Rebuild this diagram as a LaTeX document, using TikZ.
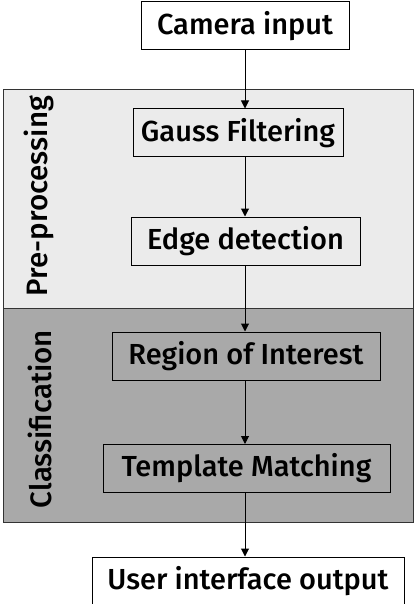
\documentclass[tikz,border=0pt]{standalone}
\usepackage{fontspec}
\setmainfont{Fira Sans}[BoldFont={Fira Sans Medium}]
\usetikzlibrary{arrows.meta}
\definecolor{lightpanel}{HTML}{EBEBEB}
\definecolor{darkpanel}{HTML}{A9A9A9}
\begin{document}
\begin{tikzpicture}[x=1pt,y=1pt,
  box/.style={draw=black, line width=1pt, minimum height=48pt, inner sep=0pt, font=\fontsize{29}{33}\selectfont\bfseries},
  panel/.style={draw=black!80, line width=1pt, inner sep=0pt},
  plabel/.style={rotate=90, font=\fontsize{29.5}{33}\selectfont\bfseries, inner sep=0pt},
  arr/.style={draw=black, line width=1pt, -{Triangle[length=8pt,width=8pt]}}]
\useasboundingbox (0,0) rectangle (416,-604);
\fill[white] (0,0) rectangle (416,-604);
\node[panel, fill=lightpanel, minimum width=410pt, minimum height=218pt] (pre) at (208,-199) {};
\node[panel, fill=darkpanel, minimum width=410pt, minimum height=214pt] (cls) at (208,-415) {};
\node[plabel] (prelab) at (39,-196) {Pre-processing};
\node[plabel] (clslab) at (40,-419) {Classification};
\node[box, fill=white, minimum width=208pt] (cam) at (245,-26) {Camera input};
\node[box, fill=lightpanel, minimum width=210pt] (gauss) at (238,-133) {Gauss Filtering};
\node[box, fill=lightpanel, minimum width=229pt] (edge) at (245.5,-241) {Edge detection};
\node[box, fill=darkpanel, minimum width=268pt] (roi) at (246,-356) {Region of Interest};
\node[box, fill=darkpanel, minimum width=287pt] (tm) at (246.5,-468.5) {Template Matching};
\node[box, fill=white, minimum width=312pt] (ui) at (248,-581) {User interface output};
\coordinate (ax) at (245,0);
\draw[arr] (cam.south -| ax) -- (gauss.north -| ax);
\draw[arr] (gauss.south -| ax) -- (edge.north -| ax);
\draw[arr] (edge.south -| ax) -- (roi.north -| ax);
\draw[arr] (roi.south -| ax) -- (tm.north -| ax);
\draw[arr] (tm.south -| ax) -- (ui.north -| ax);
\end{tikzpicture}
\end{document}
